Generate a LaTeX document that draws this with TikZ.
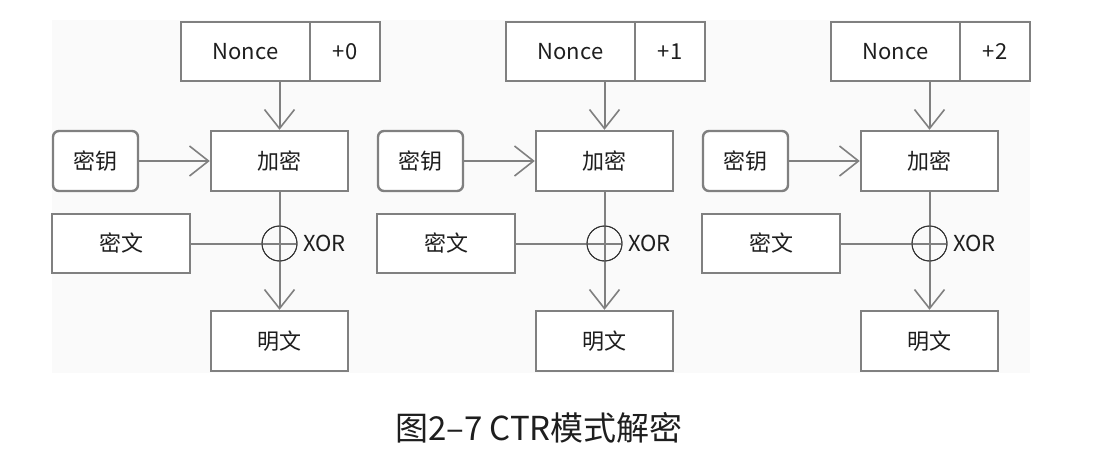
\documentclass[tikz,border=0pt]{standalone}
\usepackage{fontspec}
\setmainfont{Noto Sans CJK SC}
\usetikzlibrary{arrows.meta}
\definecolor{linegray}{HTML}{808080}
\definecolor{bggray}{HTML}{FAFAFA}
\definecolor{txt}{HTML}{1E1E1E}
\begin{document}
\begin{tikzpicture}[x=1pt,y=-1pt,
  box/.style={draw=linegray,line width=2.4pt,fill=white,inner sep=0pt,minimum height=59pt,font=\fontsize{22}{24}\selectfont,text=txt},
  conn/.style={draw=linegray,line width=2pt},
  arr/.style={conn,-{Straight Barb[length=19pt,width=30pt,line width=1.6pt]}},
  xorc/.style={circle,draw=black!80,line width=0.9pt,minimum size=35pt,inner sep=0pt}]
\useasboundingbox (0,0) rectangle (1096,472);
\fill[white] (0,0) rectangle (1096,472);
\fill[bggray] (52,20) rectangle (1030,373);
\foreach \i/\dx/\n in {0/0/+0,1/325/+1,2/650/+2}{
  \begin{scope}[xshift=\dx]
    \node[box,minimum width=129pt] (nonce\i) at (245.5,51.5) {Nonce};
    \node[box,minimum width=70pt] (plus\i) at (345,51.5) {\n};
    \node[box,minimum width=137pt,minimum height=60pt] (enc\i) at (279.5,161) {加密};
    \node[box,minimum width=85pt,minimum height=60pt,rounded corners=6pt] (key\i) at (95.5,161) {密钥};
    \node[box,minimum width=138pt] (cip\i) at (121,243.5) {密文};
    \node[xorc] (xor\i) at (279.5,243.5) {};
    \node[anchor=west,inner sep=0pt,font=\fontsize{22}{24}\selectfont,text=txt] (xl\i) at (303,243.5) {XOR};
    \node[box,minimum width=137pt,minimum height=60pt] (pl\i) at (279.5,341) {明文};
    \draw[arr] (enc\i.north |- nonce\i.south) -- (enc\i.north);
    \draw[arr] (key\i.east) -- (enc\i.west);
    \draw[conn] (cip\i.east) -- (xor\i.east);
    \draw[arr] (enc\i.south) -- (pl\i.north);
    \node[xorc] at (xor\i) {};
  \end{scope}
}
\node[font=\fontsize{33}{36}\selectfont,text=txt] (cap) at (539,428) {图2–7 CTR模式解密};
\end{tikzpicture}
\end{document}
